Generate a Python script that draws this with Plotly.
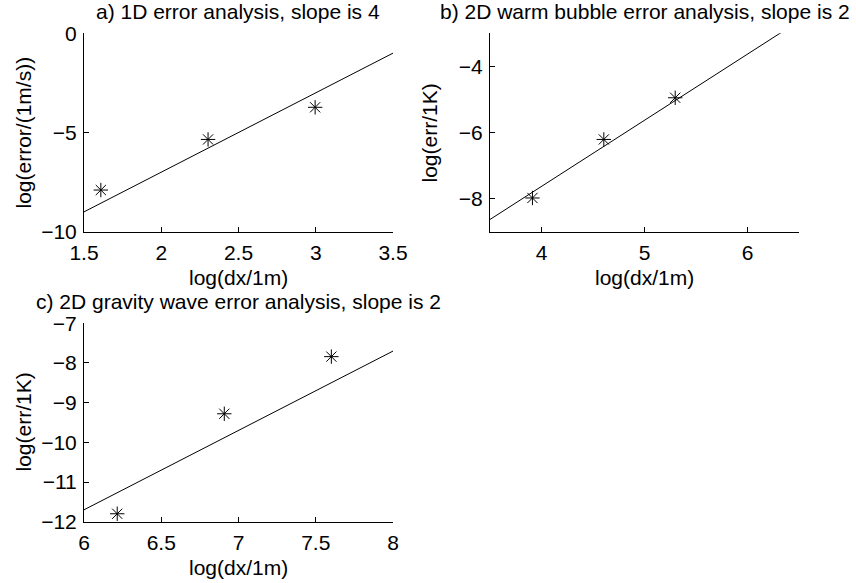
import plotly.graph_objects as go

# Convergence data: log of grid spacing vs log of error
a_dx = [1.609, 2.303, 2.996]
a_err = [-7.90, -5.35, -3.73]
a_fit_x = [1.5, 3.5]
a_fit_y = [-9.0, -1.0]

b_dx = [3.912, 4.605, 5.298]
b_err = [-7.98, -6.21, -4.95]
b_fit_x = [3.5, 6.5]
b_fit_y = [-8.63, -2.63]

c_dx = [6.215, 6.908, 7.601]
c_err = [-11.80, -9.28, -7.84]
c_fit_x = [6.0, 8.0]
c_fit_y = [-11.70, -7.70]

titles = ["a) 1D error analysis, slope is 4",
          "b) 2D warm bubble error analysis, slope is 2",
          "c) 2D gravity wave error analysis, slope is 2"]
xlabels = ["log(dx/1m)", "log(dx/1m)", "log(dx/1m)"]
ylabels = ["log(error/(1m/s))", "log(err/1K)", "log(err/1K)"]

W, H = 856, 583
FONT = "Liberation Sans, Arial, Helvetica, sans-serif"
FS = 21


def px_x(v):
    return v / W


def px_y(v):
    return 1 - v / H


# plot-area boxes in pixels: (left, right, top, bottom)
boxes = [(84, 393, 33.3, 231.7), (490, 799, 33.3, 231.7), (84, 393, 323.3, 521.7)]

fig = go.Figure()

series = [(a_dx, a_err, a_fit_x, a_fit_y),
          (b_dx, b_err, b_fit_x, b_fit_y),
          (c_dx, c_err, c_fit_x, c_fit_y)]

for i, (dx, err, fx, fy) in enumerate(series):
    xa = "x" if i == 0 else f"x{i+1}"
    ya = "y" if i == 0 else f"y{i+1}"
    fig.add_trace(go.Scatter(x=fx, y=fy, mode="lines", xaxis=xa, yaxis=ya,
                             line=dict(color="black", width=1), showlegend=False))
    fig.add_trace(go.Scatter(x=dx, y=err, mode="markers", xaxis=xa, yaxis=ya,
                             marker=dict(symbol="asterisk-open", size=12,
                                         color="black", line=dict(color="black", width=1)),
                             showlegend=False))

axis_common = dict(showline=True, linecolor="black", linewidth=1, mirror=False,
                   ticks="inside", ticklen=5, tickcolor="black", tickwidth=1,
                   showgrid=False, zeroline=False, automargin=False,
                   tickfont=dict(family=FONT, size=FS, color="black"))

x_specs = [dict(range=[1.5, 3.5], tickvals=[1.5, 2, 2.5, 3, 3.5]),
           dict(range=[3.5, 6.5], tickvals=[4, 5, 6]),
           dict(range=[6, 8], tickvals=[6, 6.5, 7, 7.5, 8])]
y_specs = [dict(range=[-10, 0], tickvals=[-10, -5, 0]),
           dict(range=[-9, -3], tickvals=[-8, -6, -4]),
           dict(range=[-12, -7], tickvals=[-12, -11, -10, -9, -8, -7])]

layout = dict(width=W, height=H, margin=dict(l=0, r=0, t=0, b=0, autoexpand=False),
              paper_bgcolor="white", plot_bgcolor="white",
              font=dict(family=FONT, size=FS, color="black"))

annotations = []
for i, (l, r, t, b) in enumerate(boxes):
    sx = "" if i == 0 else str(i + 1)
    layout["xaxis" + sx] = dict(axis_common, domain=[px_x(l), px_x(r)],
                                anchor="y" + sx, ticklabelstandoff=2, **x_specs[i])
    layout["yaxis" + sx] = dict(axis_common, domain=[px_y(b), px_y(t)],
                                anchor="x" + sx, ticklabelstandoff=2, **y_specs[i])
    cx = (l + r) / 2
    cy = (t + b) / 2
    annotations.append(dict(text=titles[i], x=px_x(cx), y=px_y(t - 22),
                            xref="paper", yref="paper", showarrow=False,
                            xanchor="center", yanchor="middle",
                            font=dict(family=FONT, size=FS, color="black")))
    annotations.append(dict(text=xlabels[i], x=px_x(cx), y=px_y(b + 46),
                            xref="paper", yref="paper", showarrow=False,
                            xanchor="center", yanchor="middle",
                            font=dict(family=FONT, size=FS, color="black")))
    annotations.append(dict(text=ylabels[i], x=px_x(l - 61), y=px_y(cy),
                            xref="paper", yref="paper", showarrow=False,
                            xanchor="center", yanchor="middle", textangle=-90,
                            font=dict(family=FONT, size=FS, color="black")))

layout["annotations"] = annotations
fig.update_layout(**layout)

fig.write_html("out.html")
